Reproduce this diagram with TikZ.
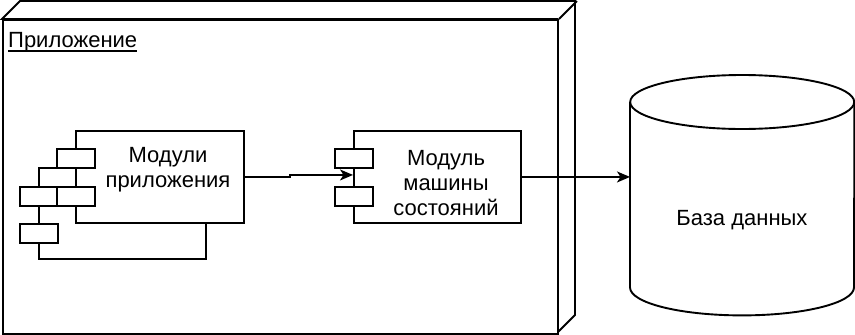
\documentclass[tikz,border=0pt]{standalone}
\usepackage{fontspec}
\setmainfont{Liberation Sans}
\usetikzlibrary{arrows.meta}
\begin{document}
\begin{tikzpicture}[x=1pt,y=-1pt,
  outline/.style={draw=black, line width=1.9pt, fill=white, line join=miter},
  comp/.style={outline, rectangle, inner sep=0pt, anchor=north west},
  port/.style={comp, minimum width=38pt, minimum height=19pt},
  txt/.style={font=\fontsize{22}{25}\selectfont, align=center, text=black, inner sep=0pt},
  conn/.style={draw=black, line width=1.5pt, -{Stealth[length=13pt,width=11pt,inset=3.5pt]}},
]
\useasboundingbox (0,0) rectangle (855,335);

% 3D node "Приложение"
\draw[outline] (2,19) -- ++(18,-18) -- ++(555,0) -- ++(0,314) -- ++(-18,18) -- ++(0,-314) -- cycle;
\node[comp, minimum width=555pt, minimum height=314pt] (app) at (2,19) {};
\draw[outline, fill=none] (app.north east) -- ++(18,-18);
\node[txt, anchor=base west] (applbl) at (8,47) {Приложение};
\draw[line width=1.5pt] ([yshift=-4pt]applbl.base west) -- ([yshift=-4pt]applbl.base east);

% Component 1 (stacked)
\node[comp, minimum width=167pt, minimum height=91pt] (c1b) at (38,167) {};
\node[port] (c1bp1) at (19,186) {};
\node[port] (c1bp2) at (19,223) {};
\node[comp, minimum width=168pt, minimum height=92pt] (c1) at (75,130) {};
\node[port] (c1p1) at (56,148) {};
\node[port] (c1p2) at (56,186) {};
\node[txt] (c1t) at (168,170) {Модули\\приложения};

% Component 2
\node[comp, minimum width=167pt, minimum height=92pt] (c2) at (353,130) {};
\node[port] (c2p1) at (334,148) {};
\node[port] (c2p2) at (334,186) {};
\node[txt] (c2t) at (446,183) {Модуль\\машины\\состояний};

% Database cylinder
\node[inner sep=0pt, minimum width=224pt, minimum height=185pt, anchor=north west] (db) at (630,102) {};
\draw[outline] (db.north west) -- (db.south west) arc[start angle=180, end angle=360, x radius=112pt, y radius=28pt] -- (db.north east);
\draw[outline] (db.north) ellipse [x radius=112pt, y radius=27pt];
\node[txt] (dbt) at (742,220) {База данных};

% Connectors
\draw[conn] (c1.east) -- ++(45,0) |- ([yshift=2pt]c2.west);
\draw[conn] (c2.east) -- (c2.east -| db.west);
\end{tikzpicture}
\end{document}
